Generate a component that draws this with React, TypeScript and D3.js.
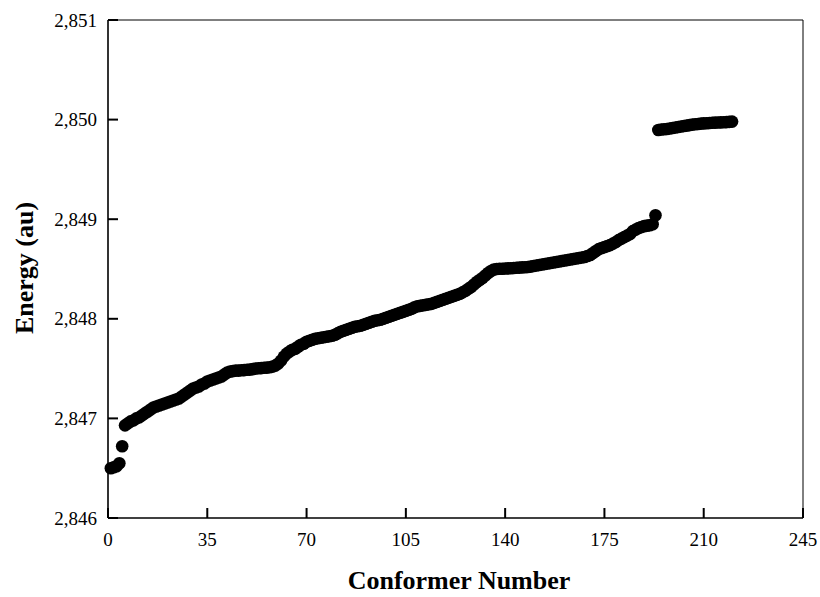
import React from "react";
import * as d3 from "d3";

// Conformer energies (au), conformer number = index + 1
const energies: number[] = [
  2.84650, 2.84651, 2.84652, 2.84655, 2.84672, 2.84693, 2.84695, 2.84697, 2.84698, 2.84700,
  2.84701, 2.84703, 2.84705, 2.84707, 2.84709, 2.84711, 2.84712, 2.84713, 2.84714, 2.84715,
  2.84716, 2.84717, 2.84718, 2.84719, 2.84720, 2.84722, 2.84724, 2.84726, 2.84728, 2.84730,
  2.84731, 2.84732, 2.84734, 2.84735, 2.84737, 2.84738, 2.84739, 2.84740, 2.84741, 2.84742,
  2.84744, 2.84746, 2.84747, 2.847475, 2.84748, 2.84748, 2.847483, 2.847485, 2.847488, 2.84749,
  2.847495, 2.84750, 2.847503, 2.847505, 2.847508, 2.84751, 2.847513, 2.84752, 2.84753, 2.84755,
  2.84758, 2.84762, 2.84765, 2.84767, 2.84769, 2.84770, 2.84772, 2.84774, 2.84775, 2.84777,
  2.84778, 2.84779, 2.84780, 2.847805, 2.84781, 2.847815, 2.84782, 2.847825, 2.84783, 2.84784,
  2.847855, 2.84787, 2.84788, 2.84789, 2.84790, 2.84791, 2.84792, 2.847925, 2.84793, 2.84794,
  2.84795, 2.84796, 2.84797, 2.84798, 2.847985, 2.84799, 2.84800, 2.84801, 2.84802, 2.84803,
  2.84804, 2.84805, 2.84806, 2.84807, 2.84808, 2.84809, 2.84810, 2.848115, 2.848125, 2.84813,
  2.848135, 2.84814, 2.848145, 2.84815, 2.84816, 2.84817, 2.84818, 2.84819, 2.84820, 2.84821,
  2.84822, 2.84823, 2.84824, 2.84825, 2.848265, 2.84828, 2.84830, 2.84832, 2.848345, 2.84837,
  2.84839, 2.84841, 2.848435, 2.84846, 2.84848, 2.848495, 2.84850, 2.848502, 2.848503, 2.848505,
  2.848506, 2.848508, 2.84851, 2.848512, 2.848514, 2.848516, 2.848518, 2.84852, 2.848524, 2.84853,
  2.848535, 2.84854, 2.848545, 2.84855, 2.848555, 2.84856, 2.848565, 2.84857, 2.848575, 2.84858,
  2.848585, 2.84859, 2.848595, 2.84860, 2.848605, 2.84861, 2.848615, 2.84862, 2.84863, 2.84864,
  2.84866, 2.84868, 2.84870, 2.84871, 2.84872, 2.84873, 2.84874, 2.848755, 2.84877, 2.84879,
  2.848805, 2.84882, 2.848835, 2.84885, 2.84888, 2.848895, 2.84891, 2.84892, 2.84893, 2.848935,
  2.84894, 2.84895, 2.84904, 2.849895, 2.84990, 2.849903, 2.849906, 2.84991, 2.849915, 2.84992,
  2.849925, 2.84993, 2.849935, 2.84994, 2.849945, 2.84995, 2.849953, 2.849956, 2.84996, 2.849962,
  2.849964, 2.849966, 2.849968, 2.84997, 2.849971, 2.849972, 2.849973, 2.849975, 2.849977, 2.84998,
];

const xTicks: number[] = [0, 35, 70, 105, 140, 175, 210, 245];
const yTicks: number[] = [2.846, 2.847, 2.848, 2.849, 2.85, 2.851];
const xTitle = "Conformer Number";
const yTitle = "Energy (au)";

const W = 820;
const H = 597;
const L = 108, R = 803, T = 20, B = 518;

export default function App() {
  const x = d3.scaleLinear().domain([0, 245]).range([L, R]);
  const y = d3.scaleLinear().domain([2.846, 2.851]).range([B, T]);
  const fmt = (v: number) => d3.format(".3f")(v).replace(".", ",");
  const fontStyle = { fontFamily: '"Liberation Serif", "Times New Roman", Times, "DejaVu Serif", serif' };
  const pts = energies.map((e, i) => ({ n: i + 1, e }));

  return (
    <svg width={W} height={H} style={{ position: "absolute", left: 0, top: 0, background: "#fff" }}>
      <rect x={0} y={0} width={W} height={H} fill="#fff" />
      {/* frame */}
      <line x1={L} x2={R} y1={T} y2={T} stroke="#000" strokeWidth={1} />
      <line x1={R} x2={R} y1={T} y2={B} stroke="#000" strokeWidth={1} />
      <line x1={L} x2={R} y1={B} y2={B} stroke="#000" strokeWidth={1.5} />
      <line x1={L} x2={L} y1={T} y2={B} stroke="#333" strokeWidth={2} />
      {/* y ticks */}
      {yTicks.map((t) => (
        <g key={"y" + t}>
          <line x1={L} x2={L + 10} y1={y(t)} y2={y(t)} stroke="#000" strokeWidth={2} />
          <text x={L - 11} y={y(t)} dy="0.35em" textAnchor="end" style={fontStyle} fontSize={19} fill="#000">
            {fmt(t)}
          </text>
        </g>
      ))}
      {/* x ticks */}
      {xTicks.map((t) => (
        <g key={"x" + t}>
          <line x1={x(t)} x2={x(t)} y1={B} y2={B - 10} stroke="#000" strokeWidth={2} />
          <text x={x(t)} y={546} textAnchor="middle" style={fontStyle} fontSize={19} fill="#000">
            {t}
          </text>
        </g>
      ))}
      {/* points */}
      {pts.map((p) => (
        <circle key={p.n} cx={x(p.n)} cy={y(p.e)} r={6.3} fill="#000" />
      ))}
      {/* titles */}
      <text x={459} y={589} textAnchor="middle" style={fontStyle} fontSize={26} fontWeight="bold" fill="#000">
        {xTitle}
      </text>
      <text
        transform={`translate(33, 268) rotate(-90)`}
        textAnchor="middle"
        style={fontStyle}
        fontSize={26}
        fontWeight="bold"
        fill="#000"
      >
        {yTitle}
      </text>
    </svg>
  );
}
